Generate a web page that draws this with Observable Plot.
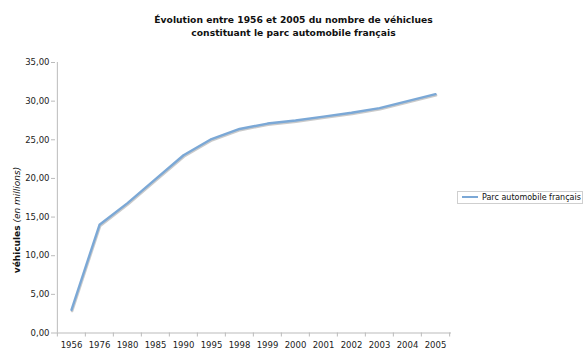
<!DOCTYPE html>
<html>
<head>
<meta charset="utf-8">
<script src="https://cdn.jsdelivr.net/npm/d3@7"></script>
<script src="https://cdn.jsdelivr.net/npm/@observablehq/plot@0.6"></script>
<style>
  html, body { margin: 0; padding: 0; background: #fff; }
  #wrap { position: relative; width: 587px; height: 361px; font-family: "DejaVu Sans", Verdana, sans-serif; color: #111; }
  #title { position: absolute; left: 0; width: 587px; top: 13px; text-align: center; font-weight: bold; font-size: 9.2px; line-height: 13px; }
  #ylab { position: absolute; left: 17px; top: 220px; transform: translate(-50%, -50%) rotate(-90deg); font-size: 9px; white-space: nowrap; color: #111; }
  #legend { position: absolute; left: 457px; top: 191px; width: 124px; height: 11px; border: 1px solid #cfcfcf; font-size: 8px; line-height: 11px; white-space: nowrap; color: #111; }
  #legend .sw { display: inline-block; width: 16px; height: 2px; background: #7ba8d6; vertical-align: middle; margin: 0 4px 0 4px; position: relative; top: -1px; }
  svg { position: absolute; left: 0; top: 0; }
</style>
</head>
<body>
<div id="wrap">
  <div id="title">Évolution entre 1956 et 2005 du nombre de véhiclues<br>constituant le parc automobile français</div>
  <div id="ylab"><b>véhicules</b> <i>(en millions)</i></div>
  <div id="legend"><span class="sw"></span>Parc automobile français</div>
</div>
<script>
const years = ["1956","1976","1980","1985","1990","1995","1998","1999","2000","2001","2002","2003","2004","2005"];
const values = [3.0, 14.0, 16.8, 19.9, 23.0, 25.1, 26.4, 27.1, 27.5, 28.0, 28.5, 29.1, 30.0, 30.9];
const yTicks = [0, 5, 10, 15, 20, 25, 30, 35];
const seriesName = "Parc automobile français";

const data = years.map((y, i) => ({year: y, value: values[i]}));

const W = 587, H = 361, ml = 55, mr = 136, mt = 62, mb = 28.5;
const bw = (W - ml - mr) / years.length;
const fmt = d => d.toFixed(2).replace(".", ",");

const chart = Plot.plot({
  width: W, height: H,
  marginLeft: ml, marginRight: mr, marginTop: mt, marginBottom: mb,
  style: {fontFamily: "'DejaVu Sans', Verdana, sans-serif", fontSize: "8.5px", color: "#222", background: "transparent"},
  x: {type: "band", domain: years, padding: 0, axis: null},
  y: {domain: [0, 35], axis: null},
  marks: [
    Plot.axisY(yTicks, {tickSize: 4, tickPadding: 2, tickFormat: fmt, stroke: "#bbb", fill: "#222", label: null}),
    Plot.axisX(years, {tickSize: 4, tickFormat: () => "", dx: -bw / 2, stroke: "#bbb", label: null}),
    Plot.axisX([years[years.length - 1]], {tickSize: 4, tickFormat: () => "", dx: bw / 2, stroke: "#bbb", label: null}),
    Plot.axisX(years, {tickSize: 0, tickPadding: 9, fill: "#222", label: null}),
    Plot.ruleY([0], {stroke: "#bbb"}),
    Plot.ruleX([years[0]], {dx: -bw / 2, stroke: "#bbb"}),
    Plot.lineY(data, {x: "year", y: "value", stroke: "#8a8a8a", strokeWidth: 2.5, strokeOpacity: 0.45, dx: 0.6, dy: 1.2}),
    Plot.lineY(data, {x: "year", y: "value", stroke: "#7ba8d6", strokeWidth: 2.4, title: () => seriesName})
  ]
});
document.getElementById("wrap").appendChild(chart);
</script>
</body>
</html>
